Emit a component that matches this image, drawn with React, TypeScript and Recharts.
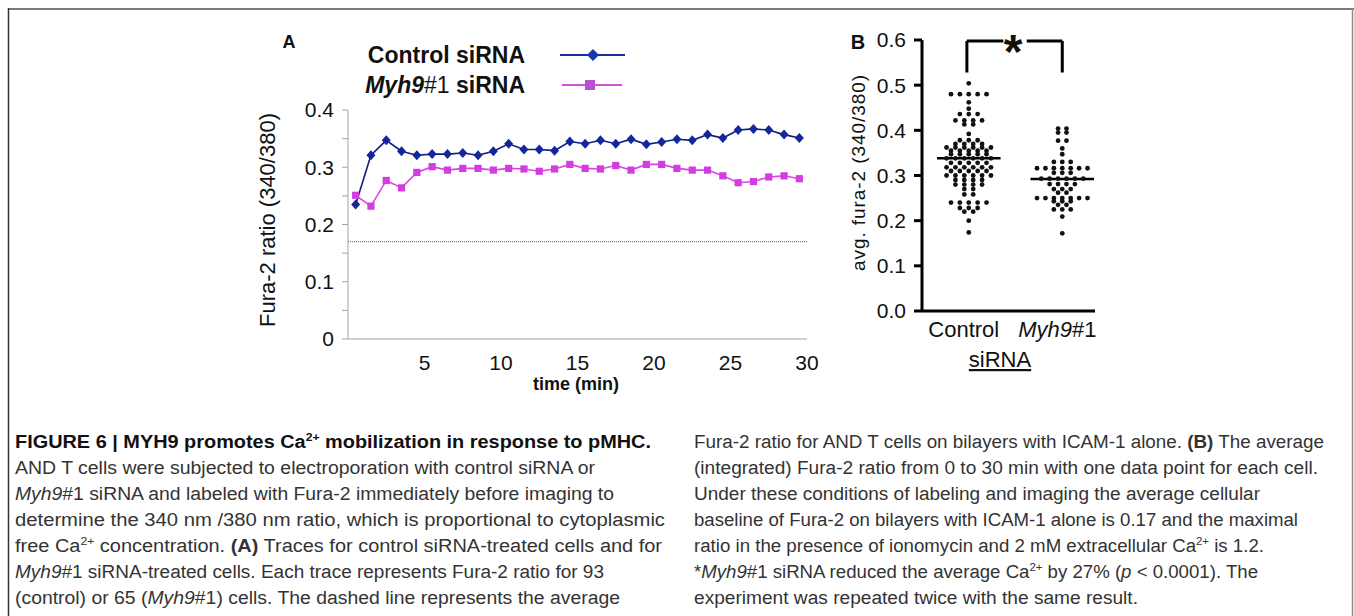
import React from 'react';
import { LineChart, Line, XAxis, YAxis, ReferenceLine, ScatterChart, Scatter } from 'recharts';

const FONT = '"Liberation Sans", Arial, Helvetica, sans-serif';

// ---- Panel A: traces ----
const TIME_MIN = [
  0.5, 1.5, 2.5, 3.5, 4.5, 5.5, 6.5, 7.5, 8.5, 9.5, 10.5, 11.5, 12.5, 13.5, 14.5,
  15.5, 16.5, 17.5, 18.5, 19.5, 20.5, 21.5, 22.5, 23.5, 24.5, 25.5, 26.5, 27.5, 28.5, 29.5,
];
const CONTROL_TRACE = [
  0.235, 0.321, 0.347, 0.328, 0.321, 0.323, 0.323, 0.325, 0.321, 0.328, 0.341, 0.331, 0.331, 0.329, 0.345,
  0.341, 0.347, 0.341, 0.349, 0.34, 0.344, 0.349, 0.347, 0.357, 0.351, 0.365, 0.367, 0.365, 0.357, 0.351,
];
const MYH9_TRACE = [
  0.251, 0.232, 0.277, 0.264, 0.291, 0.301, 0.295, 0.298, 0.298, 0.295, 0.298, 0.297, 0.293, 0.297, 0.305,
  0.298, 0.297, 0.303, 0.295, 0.305, 0.305, 0.298, 0.295, 0.295, 0.285, 0.273, 0.275, 0.283, 0.285, 0.28,
];
const BASELINE_RATIO = 0.17;
const A_Y_TICKS = [0, 0.05, 0.1, 0.15, 0.2, 0.25, 0.3, 0.35, 0.4];
const A_X_TICKS = [5, 10, 15, 20, 25, 30];

// ---- Panel B: one value per cell ----
const B_GROUPS = ['Control', 'Myh9#1'];
const CONTROL_CELLS = [
  0.504, 0.48, 0.48, 0.48, 0.48, 0.48, 0.462, 0.448, 0.436, 0.436, 0.436, 0.422, 0.422, 0.422, 0.422,
  0.413, 0.413, 0.392, 0.378, 0.378, 0.378, 0.37, 0.37, 0.37, 0.37, 0.362, 0.362, 0.362, 0.362, 0.362,
  0.362, 0.355, 0.355, 0.355, 0.355, 0.355, 0.347, 0.347, 0.347, 0.347, 0.347, 0.338, 0.338, 0.338, 0.338,
  0.338, 0.338, 0.328, 0.328, 0.328, 0.328, 0.328, 0.318, 0.318, 0.318, 0.318, 0.318, 0.318, 0.31, 0.31,
  0.31, 0.31, 0.31, 0.3, 0.3, 0.3, 0.3, 0.3, 0.3, 0.29, 0.29, 0.29, 0.29, 0.28, 0.28,
  0.28, 0.28, 0.27, 0.27, 0.258, 0.258, 0.24, 0.24, 0.24, 0.24, 0.24, 0.228, 0.228, 0.228, 0.22,
  0.22, 0.2, 0.174,
];
const MYH9_CELLS = [
  0.404, 0.404, 0.395, 0.395, 0.377, 0.377, 0.36, 0.347, 0.33, 0.33, 0.33, 0.316, 0.316, 0.316, 0.316,
  0.316, 0.316, 0.316, 0.306, 0.306, 0.306, 0.293, 0.293, 0.293, 0.293, 0.293, 0.293, 0.281, 0.281, 0.281,
  0.281, 0.27, 0.27, 0.27, 0.262, 0.262, 0.25, 0.25, 0.25, 0.25, 0.25, 0.25, 0.25, 0.243, 0.243,
  0.243, 0.235, 0.235, 0.225, 0.225, 0.225, 0.209, 0.172,
];
const B_MEANS = [0.338, 0.292];
const B_Y_TICKS = [0, 0.1, 0.2, 0.3, 0.4, 0.5, 0.6];

const BLUE = '#0e1d80';
const BLUE_MARK = '#14279a';
const MAGENTA = '#e041ea';
const MAGENTA_MARK = '#d23de0';

const traceData = TIME_MIN.map((t, i) => ({ t, control: CONTROL_TRACE[i], myh9: MYH9_TRACE[i] }));

// simple column-scatter layout: equal values share a row, spread around the group centre
function swarm(values: number[], centre: number, step: number) {
  const rows = new Map<number, number>();
  values.forEach(v => rows.set(v, (rows.get(v) || 0) + 1));
  const pts: { x: number; y: number }[] = [];
  rows.forEach((n, v) => {
    for (let k = 0; k < n; k++) pts.push({ x: centre + (k - (n - 1) / 2) * step, y: v });
  });
  return pts;
}
const controlPts = swarm(CONTROL_CELLS, 0, 0.095);
const myh9Pts = swarm(MYH9_CELLS, 1, 0.09);

const fmtA = (v: number) => {
  const r = Math.round(v * 100);
  if (r % 10 !== 0) return '';
  return r === 0 ? '0' : (r / 100).toFixed(1);
};

const diamond = (p: any) => {
  const { cx, cy, index } = p;
  if (cx == null || cy == null) return <g key={`d${index}`} />;
  return <path key={`d${index}`} d={`M${cx},${cy - 5} L${cx + 4.5},${cy} L${cx},${cy + 5} L${cx - 4.5},${cy} Z`} fill={BLUE_MARK} />;
};
const square = (p: any) => {
  const { cx, cy, index } = p;
  if (cx == null || cy == null) return <g key={`s${index}`} />;
  return <rect key={`s${index}`} x={cx - 3.6} y={cy - 3.6} width={7.2} height={7.2} fill={MAGENTA_MARK} />;
};
const cellDot = (p: any) => <circle cx={p.cx} cy={p.cy} r={2.4} fill="#111" />;

const GroupTick = (p: any) => {
  const { x, y, payload } = p;
  const label = B_GROUPS[payload.value];
  return (
    <text x={x - 5} y={y + 18} textAnchor="middle" fontSize={22} fill="#111" fontFamily={FONT}>
      {label === 'Myh9#1' ? (
        <>
          <tspan fontStyle="italic">Myh9</tspan>
          <tspan>#1</tspan>
        </>
      ) : (
        label
      )}
    </text>
  );
};

type Seg = [string, string?];
const CAPTION_LEFT: { len: number; segs: Seg[]; bold?: boolean }[] = [
  { len: 636, bold: true, segs: [['FIGURE 6 | MYH9 promotes Ca'], ['2+', 's'], [' mobilization in response to pMHC.']] },
  { len: 580, segs: [['AND T cells were subjected to electroporation with control siRNA or']] },
  { len: 599, segs: [['Myh9', 'i'], ['#1 siRNA and labeled with Fura-2 immediately before imaging to']] },
  { len: 650, segs: [['determine the 340 nm /380 nm ratio, which is proportional to cytoplasmic']] },
  { len: 647, segs: [['free Ca'], ['2+', 's'], [' concentration. '], ['(A)', 'b'], [' Traces for control siRNA-treated cells and for']] },
  { len: 589, segs: [['Myh9', 'i'], ['#1 siRNA-treated cells. Each trace represents Fura-2 ratio for 93']] },
  { len: 605, segs: [['(control) or 65 ('], ['Myh9', 'i'], ['#1) cells. The dashed line represents the average']] },
];
const CAPTION_RIGHT: { len: number; segs: Seg[]; bold?: boolean }[] = [
  { len: 630, segs: [['Fura-2 ratio for AND T cells on bilayers with ICAM-1 alone. '], ['(B)', 'b'], [' The average']] },
  { len: 624, segs: [['(integrated) Fura-2 ratio from 0 to 30 min with one data point for each cell.']] },
  { len: 566, segs: [['Under these conditions of labeling and imaging the average cellular']] },
  { len: 604, segs: [['baseline of Fura-2 on bilayers with ICAM-1 alone is 0.17 and the maximal']] },
  { len: 570, segs: [['ratio in the presence of ionomycin and 2 mM extracellular Ca'], ['2+', 's'], [' is 1.2.']] },
  { len: 564, segs: [['*'], ['Myh9', 'i'], ['#1 siRNA reduced the average Ca'], ['2+', 's'], [' by 27% ('], ['p', 'i'], [' < 0.0001). The']] },
  { len: 444, segs: [['experiment was repeated twice with the same result.']] },
];

const CaptionLine = ({ x, y, len, segs, bold }: { x: number; y: number; len: number; segs: Seg[]; bold?: boolean }) => {
  let raised = false;
  return (
    <text x={x} y={y} textLength={len} lengthAdjust="spacingAndGlyphs" fontSize={18} fill={bold ? '#111' : '#333'}
      fontWeight={bold ? 700 : 400} fontFamily={FONT} style={{ whiteSpace: 'pre' }}>
      {segs.map(([t, s], i) => {
        let dy = 0;
        if (s === 's' && !raised) { dy = -7; raised = true; }
        else if (s !== 's' && raised) { dy = 7; raised = false; }
        return (
          <tspan key={i} dy={dy || undefined} fontSize={s === 's' ? 11 : undefined}
            fontStyle={s === 'i' ? 'italic' : undefined} fontWeight={s === 'b' ? 700 : undefined}>
            {t}
          </tspan>
        );
      })}
    </text>
  );
};

export default function App() {
  return (
    <div style={{ position: 'absolute', left: 0, top: 0, width: 1354, height: 616, overflow: 'hidden', background: '#fff', fontFamily: FONT }}>
      {/* Panel A */}
      <div style={{ position: 'absolute', left: 250, top: 20 }}>
        <LineChart width={570} height={380} data={traceData} margin={{ top: 90, right: 13, bottom: 16, left: 38 }}>
          <XAxis dataKey="t" type="number" domain={[0, 30]} ticks={A_X_TICKS} interval={0} tickLine={false}
            axisLine={{ stroke: '#a3a3a3' }} tickMargin={10} height={45}
            tick={{ fontSize: 21, fill: '#111', fontFamily: FONT }} />
          <YAxis type="number" domain={[0, 0.4]} ticks={A_Y_TICKS} interval={0} tickFormatter={fmtA} width={60}
            tickSize={6} tickMargin={8} axisLine={{ stroke: '#a3a3a3' }} tickLine={{ stroke: '#a3a3a3' }}
            tick={{ fontSize: 21, fill: '#111', fontFamily: FONT }} />
          <ReferenceLine y={BASELINE_RATIO} stroke="#555" strokeDasharray="1 1" strokeWidth={1} />
          <Line type="linear" dataKey="control" stroke={BLUE} strokeWidth={1.6} dot={diamond} activeDot={false} isAnimationActive={false} />
          <Line type="linear" dataKey="myh9" stroke={MAGENTA} strokeWidth={1.6} dot={square} activeDot={false} isAnimationActive={false} />
        </LineChart>
      </div>

      {/* Panel B */}
      <div style={{ position: 'absolute', left: 840, top: 20 }}>
        <ScatterChart width={270} height={380} margin={{ top: 20, right: 15, bottom: 59, left: 22 }}>
          <XAxis dataKey="x" type="number" domain={[-0.5, 1.35]} ticks={[0, 1]} interval={0} tickLine={false}
            axisLine={{ stroke: '#000', strokeWidth: 3 }} height={30} tick={<GroupTick />} />
          <YAxis dataKey="y" type="number" domain={[0, 0.6]} ticks={B_Y_TICKS} interval={0} width={60}
            tickFormatter={(v: number) => v.toFixed(1)} tickSize={8} tickMargin={8}
            axisLine={{ stroke: '#000', strokeWidth: 3 }} tickLine={{ stroke: '#000', strokeWidth: 3 }}
            tick={{ fontSize: 21, fill: '#111', fontFamily: FONT }} />
          <Scatter data={controlPts} shape={cellDot} isAnimationActive={false} />
          <Scatter data={myh9Pts} shape={cellDot} isAnimationActive={false} />
          <ReferenceLine segment={[{ x: -0.34, y: B_MEANS[0] }, { x: 0.34, y: B_MEANS[0] }]} stroke="#000" strokeWidth={2.5} />
          <ReferenceLine segment={[{ x: 0.66, y: B_MEANS[1] }, { x: 1.34, y: B_MEANS[1] }]} stroke="#000" strokeWidth={2.5} />
          <ReferenceLine segment={[{ x: -0.02, y: 0.598 }, { x: -0.02, y: 0.528 }]} stroke="#000" strokeWidth={3} />
          <ReferenceLine segment={[{ x: -0.02, y: 0.598 }, { x: 0.37, y: 0.598 }]} stroke="#000" strokeWidth={3} />
          <ReferenceLine segment={[{ x: 0.62, y: 0.598 }, { x: 1.0, y: 0.598 }]} stroke="#000" strokeWidth={3} />
          <ReferenceLine segment={[{ x: 1.0, y: 0.598 }, { x: 1.0, y: 0.528 }]} stroke="#000" strokeWidth={3} />
        </ScatterChart>
      </div>

      {/* Labels, legend, frame and caption */}
      <svg width={1354} height={616} style={{ position: 'absolute', left: 0, top: 0, pointerEvents: 'none' }} fontFamily={FONT}>
        <line x1={8} y1={9} x2={1354} y2={9} stroke="#7a7a7a" strokeWidth={2} />
        <line x1={8.5} y1={8} x2={8.5} y2={616} stroke="#333" strokeWidth={1.5} />
        <line x1={1352.5} y1={8} x2={1352.5} y2={616} stroke="#8a8a8a" strokeWidth={1.5} />

        <text x={289} y={48} textAnchor="middle" fontSize={18} fontWeight={700} fill="#111">A</text>
        <text x={525} y={63} textAnchor="end" fontSize={23} fontWeight={700} fill="#111">Control siRNA</text>
        <line x1={560} y1={55} x2={625} y2={55} stroke="#1f2f9a" strokeWidth={2} />
        <path d="M593,49 L599,55 L593,61 L587,55 Z" fill="#1a35ad" />
        <text x={525} y={93} textAnchor="end" fontSize={23} fontWeight={700} fill="#111">
          <tspan fontStyle="italic">Myh9</tspan>
          <tspan fontWeight={400}>#1</tspan>
          <tspan> siRNA</tspan>
        </text>
        <line x1={562} y1={85} x2={622} y2={85} stroke="#d24fe0" strokeWidth={2} />
        <rect x={585} y={80} width={10} height={10} fill="#b94fd2" />
        <text transform="translate(275,220) rotate(-90)" textAnchor="middle" fontSize={22} fill="#111">Fura-2 ratio (340/380)</text>
        <text x={576} y={390} textAnchor="middle" fontSize={18} fontWeight={700} fill="#111">time (min)</text>

        <text x={858} y={49} textAnchor="middle" fontSize={20} fontWeight={700} fill="#111">B</text>
        <text transform="translate(865,173) rotate(-90)" textAnchor="middle" fontSize={19} fill="#111"
          textLength={196} lengthAdjust="spacing">avg. fura-2 (340/380)</text>
        <text x={1013} y={68} textAnchor="middle" fontSize={48} fontWeight={700} fill="#111">*</text>
        <text x={1000} y={367} textAnchor="middle" fontSize={22} fill="#111" textDecoration="underline">siRNA</text>

        {CAPTION_LEFT.map((l, i) => (
          <CaptionLine key={`l${i}`} x={15} y={448 + i * 26} len={l.len} segs={l.segs} bold={l.bold} />
        ))}
        {CAPTION_RIGHT.map((l, i) => (
          <CaptionLine key={`r${i}`} x={694} y={448 + i * 26} len={l.len} segs={l.segs} bold={l.bold} />
        ))}
      </svg>
    </div>
  );
}
